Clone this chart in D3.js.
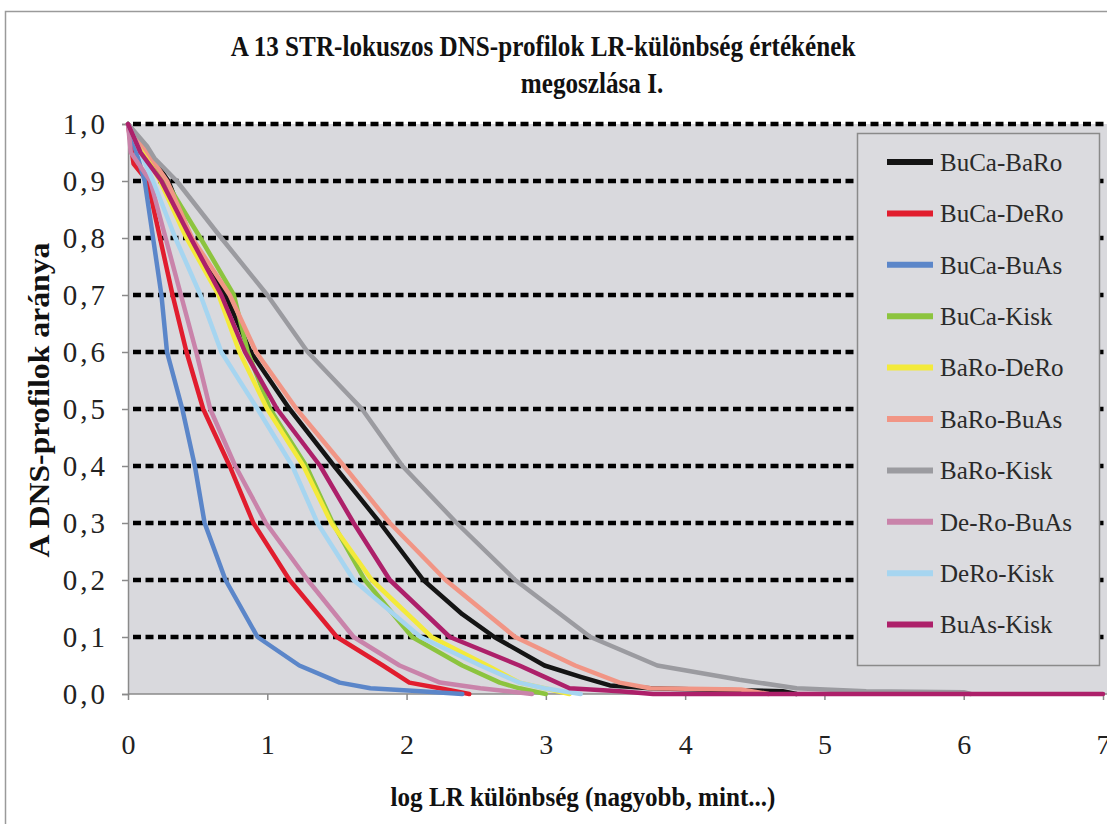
<!DOCTYPE html>
<html>
<head>
<meta charset="utf-8">
<script src="https://cdn.jsdelivr.net/npm/d3@7"></script>
<style>
  html, body { margin: 0; padding: 0; background: #ffffff; }
  svg { display: block; }
  svg text { font-family: "Liberation Serif", "Tinos", "Times New Roman", "DejaVu Serif", serif !important; }
</style>
</head>
<body>
<svg id="chart" width="1107" height="824"></svg>
<script>
// Series: [log LR difference, share of DNA profiles]
const seriesNames = ["BuCa-BaRo", "BuCa-DeRo", "BuCa-BuAs", "BuCa-Kisk", "BaRo-DeRo",
                     "BaRo-BuAs", "BaRo-Kisk", "De-Ro-BuAs", "DeRo-Kisk", "BuAs-Kisk"];
const seriesColors = ["#141414", "#e11d2e", "#5b86c9", "#8cc43e", "#f3ea3a",
                      "#f19585", "#9b9ba0", "#c983aa", "#a6d5f0", "#ad206a"];

const buCaBaRo = [[0,1],[0.12,0.96],[0.29,0.9],[0.45,0.8],[0.70,0.7],[0.88,0.6],[1.16,0.5],[1.48,0.4],
  [1.81,0.3],[2.12,0.2],[2.40,0.14],[2.63,0.1],[2.99,0.05],[3.25,0.03],[3.46,0.015],[3.75,0.01],
  [4.1,0.008],[4.7,0.005],[4.8,0]];
const buCaDeRo = [[0,1],[0.04,0.93],[0.14,0.9],[0.23,0.8],[0.32,0.7],[0.42,0.6],[0.54,0.5],[0.73,0.4],
  [0.90,0.3],[1.16,0.2],[1.50,0.1],[1.83,0.05],[2.02,0.02],[2.24,0.01],[2.45,0]];
const buCaBuAs = [[0,1],[0.12,0.9],[0.18,0.8],[0.24,0.7],[0.28,0.6],[0.39,0.5],[0.48,0.4],[0.55,0.3],
  [0.70,0.2],[0.93,0.1],[1.23,0.05],[1.52,0.02],[1.74,0.01],[2.1,0.005],[2.4,0]];
const buCaKisk = [[0,1],[0.27,0.9],[0.52,0.8],[0.76,0.7],[0.86,0.6],[1.02,0.5],[1.28,0.4],[1.47,0.3],
  [1.70,0.2],[2.04,0.1],[2.40,0.05],[2.67,0.02],[2.81,0.01],[3.0,0]];
const baRoDeRo = [[0,1],[0.23,0.9],[0.42,0.8],[0.65,0.7],[0.80,0.6],[1.00,0.5],[1.26,0.4],[1.46,0.3],
  [1.75,0.2],[2.18,0.1],[2.58,0.05],[2.81,0.02],[2.99,0.01],[3.17,0]];
const baRoBuAs = [[0,1],[0.28,0.9],[0.46,0.8],[0.73,0.7],[0.92,0.6],[1.21,0.5],[1.55,0.4],[1.88,0.3],
  [2.28,0.2],[2.78,0.1],[3.21,0.05],[3.53,0.02],[3.75,0.01],[4.4,0.008],[4.6,0]];
const baRoKisk = [[0,1],[0.14,0.96],[0.19,0.94],[0.35,0.9],[0.67,0.8],[1.00,0.7],[1.29,0.6],[1.68,0.5],
  [1.97,0.4],[2.36,0.3],[2.78,0.2],[3.32,0.1],[3.80,0.05],[4.39,0.025],[4.80,0.01],[5.3,0.005],
  [6.0,0.003],[6.05,0]];
const deRoBuAs = [[0,1],[0.02,0.95],[0.16,0.9],[0.27,0.8],[0.38,0.7],[0.49,0.6],[0.59,0.5],[0.77,0.4],
  [0.99,0.3],[1.29,0.2],[1.62,0.1],[1.95,0.05],[2.24,0.02],[2.53,0.01],[2.9,0]];
const deRoKisk = [[0,1],[0.18,0.9],[0.34,0.8],[0.52,0.7],[0.67,0.6],[0.93,0.5],[1.18,0.4],[1.36,0.3],
  [1.62,0.2],[2.10,0.1],[2.53,0.05],[2.81,0.02],[2.99,0.01],[3.25,0]];
const buAsKisk = [[0,1],[0.09,0.95],[0.24,0.9],[0.45,0.8],[0.67,0.7],[0.84,0.6],[1.07,0.5],[1.38,0.4],
  [1.62,0.3],[1.88,0.2],[2.31,0.1],[2.81,0.05],[2.99,0.03],[3.17,0.01],[3.53,0.005],[3.77,0],[7,0]];

const seriesValues = [buCaBaRo, buCaDeRo, buCaBuAs, buCaKisk, baRoDeRo,
                      baRoBuAs, baRoKisk, deRoBuAs, deRoKisk, buAsKisk];

const xTicks = [0, 1, 2, 3, 4, 5, 6, 7];
const yTicks = [0, 0.1, 0.2, 0.3, 0.4, 0.5, 0.6, 0.7, 0.8, 0.9, 1.0];

const titleLines = ["A 13 STR-lokuszos DNS-profilok LR-különbség értékének", "megoszlása I."];
const xTitle = "log LR különbség (nagyobb, mint...)";
const yTitle = "A DNS-profilok aránya";

const W = 1107, H = 824;
const plot = { left: 128, top: 124, bottom: 694, right: 1107 };
const FONT = "'Liberation Serif', 'Tinos', 'Times New Roman', 'DejaVu Serif', serif";

const svg = d3.select("#chart").attr("font-family", FONT);

// outer chart frame
svg.append("rect")
  .attr("x", 5.5).attr("y", 11.5)
  .attr("width", W + 20).attr("height", H + 20)
  .attr("fill", "#ffffff").attr("stroke", "#9a9a9a").attr("stroke-width", 1.5);

const x = d3.scaleLinear().domain([0, 7]).range([plot.left, 1103]);
const y = d3.scaleLinear().domain([0, 1]).range([plot.bottom, plot.top]);

// plot area background
svg.append("rect")
  .attr("x", plot.left).attr("y", plot.top)
  .attr("width", plot.right - plot.left).attr("height", plot.bottom - plot.top)
  .attr("fill", "#d9d9dd");

// dashed horizontal gridlines
svg.append("g")
  .selectAll("line")
  .data(yTicks.filter(d => d > 0))
  .join("line")
  .attr("x1", plot.left + 5).attr("x2", plot.right)
  .attr("y1", d => y(d)).attr("y2", d => y(d))
  .attr("stroke", "#000").attr("stroke-width", 4.5)
  .attr("stroke-dasharray", "8,4.5");

// y axis
const yAxis = d3.axisLeft(y)
  .tickValues(yTicks)
  .tickSize(6)
  .tickPadding(14)
  .tickFormat(d => d3.format(".1f")(d).replace(".", ","));
const gy = svg.append("g").attr("transform", `translate(${plot.left},0)`).call(yAxis)
  .attr("font-family", FONT);
gy.select(".domain").attr("stroke", "#8a8a8a").attr("stroke-width", 1.5);
gy.selectAll(".tick line").attr("stroke", "#8a8a8a").attr("stroke-width", 1.5);
gy.selectAll(".tick text")
  .attr("font-size", 29).attr("letter-spacing", 3).attr("fill", "#222");

// x axis
const xAxis = d3.axisBottom(x)
  .tickValues(xTicks)
  .tickSize(6)
  .tickPadding(34)
  .tickFormat(d3.format("d"));
const gx = svg.append("g").attr("transform", `translate(0,${plot.bottom})`).call(xAxis)
  .attr("font-family", FONT);
gx.select(".domain").remove();
gx.append("line")
  .attr("x1", plot.left).attr("x2", plot.right).attr("y1", 0).attr("y2", 0)
  .attr("stroke", "#8a8a8a").attr("stroke-width", 1.5);
gx.selectAll(".tick line").attr("stroke", "#8a8a8a").attr("stroke-width", 1.5);
gx.selectAll(".tick text").attr("font-size", 28).attr("fill", "#222");

// curves
const line = d3.line().x(d => x(d[0])).y(d => y(d[1]));
svg.append("g")
  .selectAll("path")
  .data(seriesValues)
  .join("path")
  .attr("d", line)
  .attr("fill", "none")
  .attr("stroke", (d, i) => seriesColors[i])
  .attr("stroke-width", 4.5)
  .attr("stroke-linejoin", "round")
  .attr("stroke-linecap", "round");

// legend
const legend = { x: 857, y: 133, w: 242, h: 532, step: 51.4, first: 162 };
const lg = svg.append("g");
lg.append("rect")
  .attr("x", legend.x + 0.5).attr("y", legend.y + 0.5)
  .attr("width", legend.w).attr("height", legend.h)
  .attr("fill", "#dbdbdf").attr("stroke", "#8a8a8a").attr("stroke-width", 1.5);
const items = lg.selectAll("g.item")
  .data(seriesNames)
  .join("g")
  .attr("class", "item")
  .attr("transform", (d, i) => `translate(0,${legend.first + i * legend.step})`);
items.append("line")
  .attr("x1", 887).attr("x2", 933).attr("y1", 0).attr("y2", 0)
  .attr("stroke", (d, i) => seriesColors[i]).attr("stroke-width", 6);
items.append("text")
  .attr("x", 940).attr("y", 0).attr("dy", "0.35em")
  .attr("font-size", 25).attr("fill", "#2a2a2a")
  .text(d => d);

// titles: tall, narrow bold lettering
const titleG = svg.append("g");
const titleTexts = titleG.selectAll("text")
  .data(titleLines)
  .join("text")
  .attr("text-anchor", "middle")
  .attr("font-size", 30).attr("font-weight", "bold").attr("fill", "#111")
  .text(d => d);
const firstWidth = titleTexts.nodes()[0].getComputedTextLength();
const titleScale = 625 / firstWidth;
const titleCenters = [543, 592];
titleTexts.attr("transform", (d, i) =>
  `translate(${titleCenters[i]},${56 + i * 37}) scale(${titleScale},1)`);

const xt = svg.append("text")
  .attr("text-anchor", "middle")
  .attr("font-size", 28).attr("font-weight", "bold").attr("fill", "#111")
  .text(xTitle);
const xtScale = 385 / xt.node().getComputedTextLength();
xt.attr("transform", `translate(583,806) scale(${xtScale},1)`);

const yt = svg.append("text")
  .attr("text-anchor", "middle")
  .attr("font-size", 29).attr("font-weight", "bold").attr("fill", "#111")
  .text(yTitle);
const ytScale = 315 / yt.node().getComputedTextLength();
yt.attr("transform", `translate(49,400) rotate(-90) scale(${ytScale},1)`);
</script>
</body>
</html>
